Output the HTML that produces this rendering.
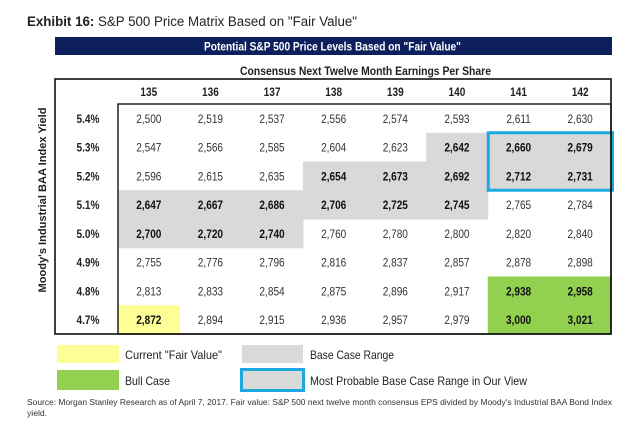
<!DOCTYPE html>
<html><head><meta charset="utf-8"><style>
html,body{margin:0;padding:0;background:#fff;}
svg{display:block;font-family:"Liberation Sans Narrow","Liberation Sans",sans-serif;}
.n{transform-box:fill-box;transform-origin:center;transform:scaleX(0.84);}
</style></head><body>
<svg id="chart" width="640" height="435" viewBox="0 0 640 435">
<text x="27" y="26" font-family="Liberation Sans, sans-serif" font-size="13.5" fill="#222" textLength="330" lengthAdjust="spacingAndGlyphs"><tspan font-weight="bold">Exhibit 16:</tspan> S&amp;P 500 Price Matrix Based on "Fair Value"</text>
<rect x="55" y="37" width="557" height="18" fill="#0d1f5c"/>
<text x="204" y="50.5" font-size="12" font-weight="bold" fill="#fff" textLength="257" lengthAdjust="spacingAndGlyphs">Potential S&amp;P 500 Price Levels Based on "Fair Value"</text>
<text x="240" y="75" font-size="12" font-weight="bold" fill="#222" textLength="251" lengthAdjust="spacingAndGlyphs">Consensus Next Twelve Month Earnings Per Share</text>
<g id="cells"></g>
<rect x="55" y="79" width="556" height="255" fill="none" stroke="#111" stroke-width="1.6"/>
<rect x="118" y="104" width="493" height="230" fill="none" stroke="#111" stroke-width="1.4"/>
<text transform="translate(46,200) rotate(-90)" text-anchor="middle" font-family="Liberation Sans, sans-serif" font-size="11" font-weight="bold" fill="#222" textLength="185" lengthAdjust="spacingAndGlyphs">Moody's Industrial BAA Index Yield</text>
<g id="legend">
<rect x="57" y="345" width="62" height="18" fill="#fefe96"/>
<text x="125" y="359" font-size="12" fill="#222" textLength="97" lengthAdjust="spacingAndGlyphs">Current "Fair Value"</text>
<rect x="242" y="345" width="61" height="18" fill="#d9d9d9"/>
<text x="310" y="359" font-size="12" fill="#222" textLength="84" lengthAdjust="spacingAndGlyphs">Base Case Range</text>
<rect x="57" y="370" width="62" height="20" fill="#92d050"/>
<text x="125" y="385" font-size="12" fill="#222" textLength="45" lengthAdjust="spacingAndGlyphs">Bull Case</text>
<rect x="241.5" y="369.5" width="62" height="21" fill="#d9d9d9" stroke="#1ea8e0" stroke-width="3"/>
<text x="310" y="385" font-size="12" fill="#222" textLength="217" lengthAdjust="spacingAndGlyphs">Most Probable Base Case Range in Our View</text>
</g>
<text x="27" y="405" font-size="8.6" fill="#333" textLength="585" lengthAdjust="spacingAndGlyphs">Source: Morgan Stanley Research as of April 7, 2017. Fair value: S&amp;P 500 next twelve month consensus EPS divided by Moody's Industrial BAA Bond Index</text>
<text x="27" y="416" font-size="8.6" fill="#333">yield.</text>
</svg>
<script>
const eps = [135,136,137,138,139,140,141,142];
const yields = ["5.4%","5.3%","5.2%","5.1%","5.0%","4.9%","4.8%","4.7%"];
const prices = [
 [2500,2519,2537,2556,2574,2593,2611,2630],
 [2547,2566,2585,2604,2623,2642,2660,2679],
 [2596,2615,2635,2654,2673,2692,2712,2731],
 [2647,2667,2686,2706,2725,2745,2765,2784],
 [2700,2720,2740,2760,2780,2800,2820,2840],
 [2755,2776,2796,2816,2837,2857,2878,2898],
 [2813,2833,2854,2875,2896,2917,2938,2958],
 [2872,2894,2915,2936,2957,2979,3000,3021]
];
// category per cell: 0 none, 1 fair value, 2 base case, 3 bull case
const categories = [
 [0,0,0,0,0,0,0,0],
 [0,0,0,0,0,2,2,2],
 [0,0,0,2,2,2,2,2],
 [2,2,2,2,2,2,0,0],
 [2,2,2,0,0,0,0,0],
 [0,0,0,0,0,0,0,0],
 [0,0,0,0,0,0,3,3],
 [1,0,0,0,0,0,3,3]
];
const mostProbableRows = [1,2];
const mostProbableCols = [6,7];

const NS="http://www.w3.org/2000/svg";
const g=document.getElementById('cells');
const x0=118, colW=(611-118)/eps.length, y0=104, rowH=(334-104)/yields.length;
const xPos=i=>x0+i*colW, yPos=j=>y0+j*rowH;
const fills=[null,"#fefe96","#d9d9d9","#92d050"];
function mk(tag,attrs){const e=document.createElementNS(NS,tag);for(const k in attrs)e.setAttribute(k,attrs[k]);return e;}
eps.forEach((v,i)=>{
  const t=mk('text',{x:xPos(i)+colW/2,y:96,'text-anchor':'middle','font-size':12,'font-weight':'bold',fill:'#222','class':'n'});
  
  
  t.textContent=v;g.appendChild(t);
});
yields.forEach((y,j)=>{
  const t=mk('text',{x:88,y:yPos(j)+rowH/2+4.5,'text-anchor':'middle','font-size':12,'font-weight':'bold',fill:'#222','class':'n'});
  
  
  t.textContent=y;g.appendChild(t);
  prices[j].forEach((p,i)=>{
    const c=categories[j][i];
    if(c){const r=mk('rect',{x:xPos(i),y:yPos(j),width:colW+0.5,height:rowH+0.5,fill:fills[c]});
      
      
      g.appendChild(r);}
    const t=mk('text',{x:xPos(i)+colW/2,y:yPos(j)+rowH/2+4.5,'text-anchor':'middle','font-size':12,'font-weight':c?'bold':'normal',fill:c?'#111':'#333','class':'n'});
    
    
    t.textContent=p.toLocaleString('en-US');g.appendChild(t);
  });
});
const bx=xPos(mostProbableCols[0]), by=yPos(mostProbableRows[0]);
const bw=xPos(mostProbableCols[mostProbableCols.length-1]+1)-bx, bh=yPos(mostProbableRows[mostProbableRows.length-1]+1)-by;
const box=mk('rect',{x:bx+0.5,y:by,width:bw+1,height:bh,fill:'none',stroke:'#1ea8e0','stroke-width':3});


g.appendChild(box);
</script>
</body></html>
